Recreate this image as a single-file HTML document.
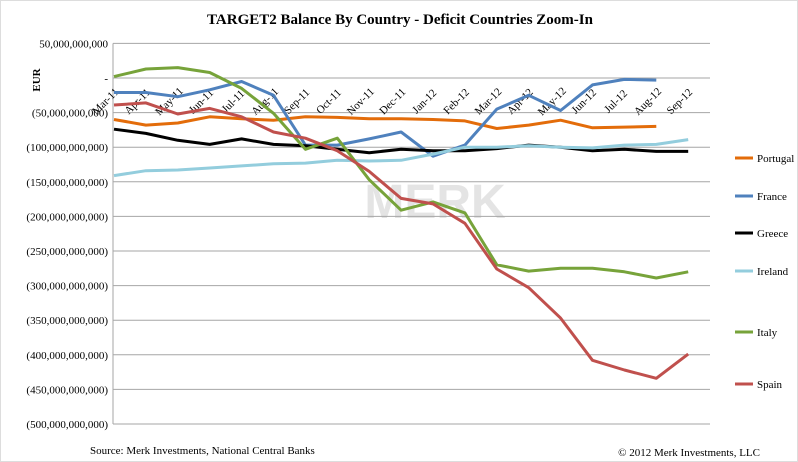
<!DOCTYPE html>
<html><head><meta charset="utf-8"><style>
body{margin:0;background:#fff;}
svg{display:block;font-family:"Liberation Serif",serif;}
</style></head><body>
<svg id="chart" width="798" height="462">
<rect x="0.5" y="0.5" width="797" height="461" fill="#fff" stroke="#ddd"/>
<text x="400" y="24" text-anchor="middle" font-size="15" font-weight="bold">TARGET2 Balance By Country - Deficit Countries Zoom-In</text>
<text x="0" y="0" transform="translate(40,80) rotate(-90)" text-anchor="middle" font-size="11" font-weight="bold">EUR</text>
<text x="435" y="218" text-anchor="middle" font-size="48" font-family="Liberation Sans, sans-serif" font-weight="bold" fill="#e4e4e4">MERK</text>
<g id="grid"></g><g id="ylabels"></g><g id="xlabels"></g><g id="series"></g><g id="legend"></g>
<text x="90" y="454" font-size="11">Source: Merk Investments, National Central Banks</text>
<text x="760" y="456" text-anchor="end" font-size="11">© 2012 Merk Investments, LLC</text>
</svg>
<script>
const months=["Mar-11","Apr-11","May-11","Jun-11","Jul-11","Aug-11","Sep-11","Oct-11","Nov-11","Dec-11","Jan-12","Feb-12","Mar-12","Apr-12","May-12","Jun-12","Jul-12","Aug-12","Sep-12"];
const yTicks=[50,0,-50,-100,-150,-200,-250,-300,-350,-400,-450,-500];
const yTickLabels=["50,000,000,000","-","(50,000,000,000)","(100,000,000,000)","(150,000,000,000)","(200,000,000,000)","(250,000,000,000)","(300,000,000,000)","(350,000,000,000)","(400,000,000,000)","(450,000,000,000)","(500,000,000,000)"];
const seriesNames=["Portugal","France","Greece","Ireland","Italy","Spain"];
const seriesColors=["#e36c0a","#4f81bd","#000000","#93cddd","#77a33a","#c0504d"];
const portugal=[-60,-68,-65,-56,-59,-61,-56,-57,-59,-59,-60,-62,-73,-68,-61,-72,-71,-70,null];
const france=[-21,-21,-27,-17,-5,-25,-97,-97,-88,-78,-113,-97,-45,-25,-47,-10,-2,-3,null];
const greece=[-74,-80,-90,-96,-88,-96,-98,-103,-108,-103,-105,-105,-102,-97,-100,-105,-103,-106,-106];
const ireland=[-141,-134,-133,-130,-127,-124,-123,-119,-120,-119,-110,-100,-100,-98,-100,-101,-97,-96,-89];
const italy=[2,13,15,8,-15,-51,-103,-87,-147,-191,-179,-195,-270,-279,-275,-275,-280,-289,-280];
const spain=[-39,-36,-52,-44,-56,-78,-87,-105,-135,-174,-182,-210,-276,-303,-347,-408,-422,-434,-399];
const allSeries=[portugal,france,greece,ireland,italy,spain];
const legendY=[158,196,233,271,332,384];
const NS="http://www.w3.org/2000/svg";
const X0=114,XS=31.9,Y0=78,YK=0.692,PL=113,PR=710;
const xs=i=>X0+i*XS, ys=v=>Y0-v*YK;
function mk(t,a,p){const e=document.createElementNS(NS,t);for(const k in a)e.setAttribute(k,a[k]);p.appendChild(e);return e;}
const g=document.getElementById('grid'),yl=document.getElementById('ylabels'),xl=document.getElementById('xlabels'),sg=document.getElementById('series'),lg=document.getElementById('legend');
yTicks.forEach((v,i)=>{
 const l=mk('line',{x1:PL,x2:PR,y1:ys(v),y2:ys(v),stroke:'#a6a6a6','stroke-width':1},g);
 
 
 const t=mk('text',{x:108,y:ys(v)+4,'text-anchor':'end','font-size':11},yl);t.textContent=yTickLabels[i];
 
 
});
const ax=mk('line',{x1:PL,x2:PL,y1:ys(50),y2:ys(-500),stroke:'#a6a6a6'},g);


months.forEach((m,i)=>{
 const cx=xs(i)-9,cy=101;
 const t=mk('text',{x:cx,y:cy+4,'text-anchor':'middle','font-size':11,transform:`rotate(-45 ${cx} ${cy})`},xl);t.textContent=m;
 
 
});
allSeries.forEach((arr,s)=>{
 let d='';arr.forEach((v,i)=>{if(v===null)return;d+=(d?'L':'M')+xs(i).toFixed(1)+','+ys(v).toFixed(1);});
 const p=mk('path',{d:d,fill:'none',stroke:seriesColors[s],'stroke-width':3,'stroke-linejoin':'round'},sg);
 
 
 const ll=mk('line',{x1:735,x2:753,y1:legendY[s],y2:legendY[s],stroke:seriesColors[s],'stroke-width':3},lg);
 
 
 const lt=mk('text',{x:757,y:legendY[s]+4,'font-size':11},lg);lt.textContent=seriesNames[s];
 
 
});
</script>
</body></html>
